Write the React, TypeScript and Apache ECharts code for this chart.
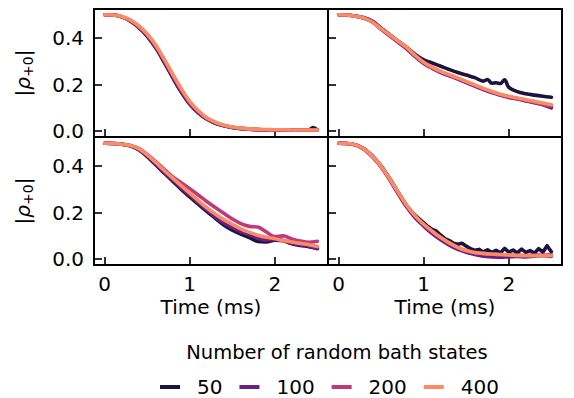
import React, { useEffect, useRef } from "react";
import * as echarts from "echarts";

// ---- data (time in ms, |rho_{+0}|) ----
const SIZES = ["50", "100", "200", "400"];
const COLORS = ["#1b1340", "#6b1e84", "#be3a7c", "#fc8a62"];
const X_TICKS = [0, 1, 2];
const Y_TICKS = [0, 0.2, 0.4];

const T = [0, 0.1, 0.2, 0.3, 0.4, 0.5, 0.6, 0.7, 0.8, 0.9, 1.0, 1.1, 1.2, 1.3, 1.4, 1.5, 1.6, 1.7, 1.8, 1.9, 2.0, 2.1, 2.2, 2.3, 2.4, 2.5];
const T1_50 = [0, 0.1, 0.2, 0.3, 0.4, 0.5, 0.6, 0.7, 0.8, 0.9, 1.0, 1.1, 1.2, 1.3, 1.4, 1.5, 1.6, 1.7, 1.8, 1.9, 2.0, 2.1, 2.2, 2.3, 2.4, 2.45, 2.5];
const T2_50 = [0, 0.1, 0.2, 0.3, 0.4, 0.5, 0.6, 0.7, 0.8, 0.9, 1.0, 1.1, 1.2, 1.3, 1.4, 1.5, 1.6, 1.7, 1.75, 1.8, 1.85, 1.9, 1.95, 2.0, 2.1, 2.2, 2.3, 2.4, 2.5];
const T4_50 = [0, 0.1, 0.2, 0.3, 0.4, 0.5, 0.6, 0.7, 0.8, 0.9, 1.0, 1.05, 1.1, 1.15, 1.2, 1.25, 1.3, 1.35, 1.4, 1.45, 1.5, 1.55, 1.6, 1.65, 1.7, 1.75, 1.8, 1.85, 1.9, 1.95, 2.0, 2.05, 2.1, 2.15, 2.2, 2.25, 2.3, 2.35, 2.4, 2.45, 2.5];

// panel 1 (top-left)
const P1_50 = [0.500, 0.499, 0.491, 0.474, 0.446, 0.408, 0.358, 0.296, 0.230, 0.168, 0.116, 0.079, 0.052, 0.034, 0.023, 0.016, 0.011, 0.008, 0.006, 0.005, 0.005, 0.005, 0.004, 0.004, 0.005, 0.016, 0.006];
const P1_100 = [0.500, 0.499, 0.492, 0.475, 0.448, 0.411, 0.362, 0.301, 0.235, 0.172, 0.120, 0.082, 0.054, 0.035, 0.024, 0.016, 0.012, 0.009, 0.007, 0.006, 0.005, 0.005, 0.005, 0.005, 0.004, 0.005];
const P1_200 = [0.500, 0.499, 0.492, 0.476, 0.450, 0.414, 0.366, 0.305, 0.240, 0.178, 0.124, 0.085, 0.056, 0.037, 0.025, 0.017, 0.012, 0.009, 0.007, 0.006, 0.006, 0.005, 0.005, 0.005, 0.005, 0.006];
const P1_400 = [0.500, 0.499, 0.493, 0.478, 0.453, 0.418, 0.370, 0.310, 0.245, 0.183, 0.128, 0.088, 0.058, 0.039, 0.026, 0.018, 0.013, 0.010, 0.008, 0.007, 0.006, 0.006, 0.005, 0.005, 0.005, 0.005];

// panel 2 (top-right)
const P2_50 = [0.500, 0.499, 0.495, 0.488, 0.472, 0.443, 0.415, 0.387, 0.360, 0.330, 0.307, 0.293, 0.279, 0.265, 0.252, 0.241, 0.230, 0.215, 0.222, 0.206, 0.208, 0.205, 0.221, 0.188, 0.170, 0.161, 0.155, 0.150, 0.146];
const P2_100 = [0.500, 0.499, 0.494, 0.485, 0.468, 0.438, 0.410, 0.382, 0.354, 0.320, 0.291, 0.270, 0.252, 0.238, 0.224, 0.209, 0.194, 0.179, 0.166, 0.154, 0.145, 0.138, 0.130, 0.122, 0.113, 0.100];
const P2_200 = [0.500, 0.499, 0.494, 0.486, 0.469, 0.439, 0.411, 0.384, 0.357, 0.323, 0.294, 0.272, 0.255, 0.241, 0.227, 0.212, 0.197, 0.182, 0.169, 0.157, 0.148, 0.140, 0.132, 0.124, 0.116, 0.108];
const P2_400 = [0.500, 0.499, 0.494, 0.486, 0.468, 0.440, 0.414, 0.387, 0.360, 0.326, 0.296, 0.275, 0.257, 0.243, 0.229, 0.214, 0.199, 0.184, 0.171, 0.159, 0.150, 0.143, 0.135, 0.128, 0.121, 0.114];

// panel 3 (bottom-left)
const P3_50 = [0.498, 0.497, 0.494, 0.487, 0.470, 0.441, 0.406, 0.370, 0.335, 0.300, 0.268, 0.236, 0.205, 0.176, 0.147, 0.125, 0.108, 0.093, 0.076, 0.074, 0.082, 0.079, 0.066, 0.059, 0.054, 0.047];
const P3_100 = [0.498, 0.497, 0.494, 0.488, 0.472, 0.444, 0.410, 0.374, 0.340, 0.306, 0.275, 0.243, 0.212, 0.182, 0.155, 0.135, 0.118, 0.105, 0.090, 0.082, 0.085, 0.080, 0.068, 0.062, 0.057, 0.045];
const P3_200 = [0.498, 0.497, 0.494, 0.489, 0.476, 0.450, 0.419, 0.386, 0.354, 0.329, 0.303, 0.276, 0.248, 0.222, 0.197, 0.173, 0.153, 0.141, 0.138, 0.117, 0.097, 0.100, 0.087, 0.078, 0.073, 0.077];
const P3_400 = [0.498, 0.497, 0.494, 0.489, 0.475, 0.448, 0.416, 0.381, 0.348, 0.316, 0.284, 0.252, 0.221, 0.194, 0.170, 0.150, 0.130, 0.115, 0.103, 0.094, 0.088, 0.080, 0.074, 0.068, 0.062, 0.054];

// panel 4 (bottom-right)
const P4_50 = [0.498, 0.497, 0.492, 0.474, 0.443, 0.400, 0.347, 0.287, 0.228, 0.188, 0.156, 0.140, 0.128, 0.120, 0.103, 0.088, 0.080, 0.068, 0.064, 0.068, 0.056, 0.045, 0.038, 0.042, 0.031, 0.040, 0.029, 0.038, 0.027, 0.046, 0.030, 0.039, 0.027, 0.043, 0.029, 0.037, 0.026, 0.045, 0.030, 0.058, 0.032];
const P4_100 = [0.498, 0.497, 0.490, 0.471, 0.439, 0.395, 0.341, 0.281, 0.224, 0.178, 0.142, 0.110, 0.083, 0.060, 0.042, 0.030, 0.020, 0.013, 0.010, 0.008, 0.010, 0.012, 0.010, 0.013, 0.015, 0.012];
const P4_200 = [0.498, 0.497, 0.491, 0.473, 0.442, 0.399, 0.346, 0.287, 0.230, 0.185, 0.149, 0.119, 0.092, 0.069, 0.050, 0.036, 0.028, 0.024, 0.021, 0.019, 0.018, 0.017, 0.016, 0.018, 0.017, 0.019];
const P4_400 = [0.498, 0.497, 0.491, 0.472, 0.441, 0.398, 0.346, 0.288, 0.232, 0.186, 0.150, 0.120, 0.093, 0.070, 0.051, 0.037, 0.029, 0.025, 0.022, 0.020, 0.018, 0.016, 0.015, 0.015, 0.015, 0.015];

const PANELS = [
  [[T1_50, P1_50], [T, P1_100], [T, P1_200], [T, P1_400]],
  [[T2_50, P2_50], [T, P2_100], [T, P2_200], [T, P2_400]],
  [[T, P3_50], [T, P3_100], [T, P3_200], [T, P3_400]],
  [[T4_50, P4_50], [T, P4_100], [T, P4_200], [T, P4_400]],
];

const FONT = "DejaVu Sans";

export default function App() {
  const ref = useRef<HTMLDivElement>(null);
  useEffect(() => {
    if (!ref.current) return;
    const chart = echarts.init(ref.current, null, { renderer: "svg" });
    const gridPos = [
      { left: 94, top: 9 },
      { left: 328, top: 9 },
      { left: 94, top: 137 },
      { left: 328, top: 137 },
    ];
    const grid = gridPos.map((g) => ({
      ...g,
      width: 234,
      height: 128,
      show: true,
      borderColor: "#000",
      borderWidth: 2,
      backgroundColor: "transparent",
      containLabel: false,
    }));
    const tickStyle = { inside: true, length: 8, lineStyle: { color: "#000", width: 1.6 } };
    const xAxis = [0, 1, 2, 3].map((i) => ({
      type: "value",
      gridIndex: i,
      min: -0.125,
      max: 2.625,
      axisLine: { show: false, onZero: false },
      splitLine: { show: false },
      axisTick: { ...tickStyle, customValues: X_TICKS },
      axisLabel: {
        show: i >= 2,
        customValues: X_TICKS,
        margin: 9,
        fontFamily: FONT,
        fontSize: 20,
        color: "#000",
      },
      name: i >= 2 ? "Time (ms)" : "",
      nameLocation: "middle",
      nameGap: 32,
      nameTextStyle: { fontFamily: FONT, fontSize: 20, color: "#000" },
    }));
    const yAxis = [0, 1, 2, 3].map((i) => ({
      type: "value",
      gridIndex: i,
      min: -0.025,
      max: 0.525,
      axisLine: { show: false, onZero: false },
      splitLine: { show: false },
      axisTick: { ...tickStyle, customValues: Y_TICKS },
      axisLabel: {
        show: i % 2 === 0,
        customValues: Y_TICKS,
        margin: 10,
        fontFamily: FONT,
        fontSize: 20,
        color: "#000",
        formatter: (v: number) => v.toFixed(1),
      },
      name: i % 2 === 0 ? "|{r|ρ}{s|+0}|" : "",
      nameLocation: "middle",
      nameRotate: 90,
      nameGap: 59,
      nameTextStyle: {
        fontFamily: FONT,
        fontSize: 20,
        color: "#000",
        lineHeight: 24,
        rich: {
          r: { fontFamily: FONT, fontSize: 20, fontStyle: "italic", color: "#000", lineHeight: 24 },
          s: { fontFamily: FONT, fontSize: 14, color: "#000", lineHeight: 16, verticalAlign: "bottom" },
        },
      },
    }));
    const series: any[] = [];
    PANELS.forEach((panel, p) => {
      panel.forEach(([ts, vs], s) => {
        series.push({
          type: "line",
          name: SIZES[s],
          xAxisIndex: p,
          yAxisIndex: p,
          data: ts.map((t, k) => [t, vs[k]]),
          showSymbol: false,
          symbol: "none",
          smooth: ts.length > 30 ? false : 0.35,
          lineStyle: { width: 3.6, color: COLORS[s], cap: "round", join: "round" },
          itemStyle: { color: COLORS[s] },
          z: 2 + s,
        });
      });
    });
    chart.setOption({
      animation: false,
      grid,
      xAxis,
      yAxis,
      series,
      legend: {
        data: SIZES,
        left: 160,
        top: 377,
        padding: 0,
        icon: "rect",
        itemWidth: 20,
        itemHeight: 4,
        itemGap: 17,
        textStyle: { fontFamily: FONT, fontSize: 20, color: "#000", padding: [0, 0, 0, 12] },
      },
      graphic: [
        {
          type: "text",
          x: 337,
          y: 352,
          style: {
            text: "Number of random bath states",
            fontFamily: FONT,
            fontSize: 19.5,
            fill: "#000",
            textAlign: "center",
            textVerticalAlign: "middle",
          },
        },
      ],
    });
    return () => chart.dispose();
  }, []);
  return (
    <div
      ref={ref}
      style={{ position: "absolute", left: 0, top: 0, width: 574, height: 398, background: "#fff" }}
    />
  );
}
